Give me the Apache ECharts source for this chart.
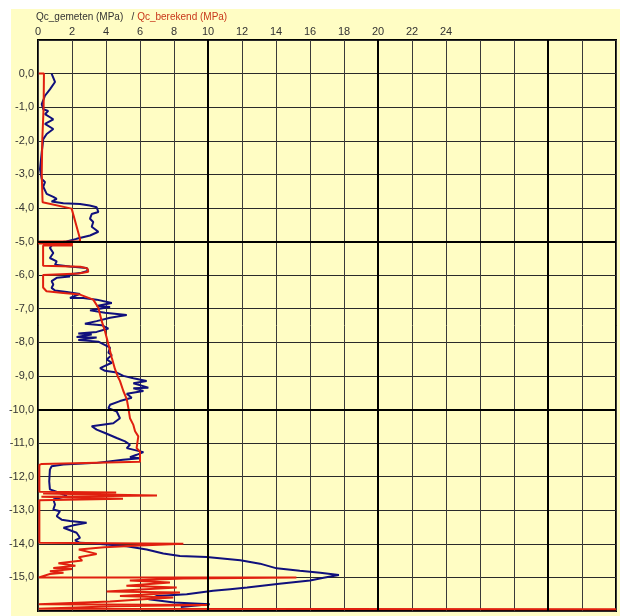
<!DOCTYPE html>
<html>
<head>
<meta charset="utf-8">
<script src="https://cdn.jsdelivr.net/npm/echarts@6/dist/echarts.min.js"></script>
<style>
  html, body { margin: 0; padding: 0; background: #ffffff; }
  #chart { width: 624px; height: 616px; }
</style>
</head>
<body>
<div id="chart"></div>
<script>
// Cone resistance profile: measured (gemeten) vs calculated (berekend), [qc MPa, depth m]
const gemeten = [
  [0.8,0],[1.0,-0.25],[0.7,-0.47],[0.41,-0.66],[0.22,-0.91],[0.31,-1.06],[0.6,-1.11],[0.41,-1.21],
  [0.9,-1.36],[0.41,-1.5],[0.9,-1.65],[0.51,-1.8],[0.31,-1.95],[0.22,-2.34],[0.12,-2.84],[0.22,-3.14],
  [0.41,-3.23],[0.31,-3.37],[0.51,-3.58],[0.9,-3.67],[1.1,-3.73],[0.8,-3.81],[1.49,-3.86],[2.47,-3.88],
  [3.04,-3.93],[3.45,-3.98],[3.55,-4.12],[3.16,-4.18],[3.06,-4.32],[3.25,-4.42],[3.16,-4.56],[3.55,-4.71],
  [3.06,-4.82],[2.27,-4.92],[1.67,-5.0],[0.9,-5.05],[0.7,-5.19],[0.9,-5.34],[0.7,-5.49],[1.1,-5.59],
  [1.0,-5.69],[1.88,-5.74],[2.86,-5.79],[2.96,-5.87],[2.47,-5.94],[1.69,-5.99],[1.88,-6.04],[1.1,-6.08],
  [0.8,-6.18],[0.9,-6.28],[0.8,-6.38],[1.0,-6.46],[1.69,-6.5],[2.47,-6.56],[1.88,-6.68],[2.66,-6.68],
  [3.45,-6.73],[4.34,-6.83],[3.45,-6.92],[4.24,-6.95],[3.06,-7.05],[2.96,-7.1],[3.94,-7.12],[5.22,-7.19],
  [4.24,-7.27],[3.45,-7.37],[2.76,-7.45],[3.75,-7.49],[4.14,-7.59],[3.45,-7.69],[2.37,-7.74],[3.16,-7.77],
  [2.27,-7.84],[3.45,-7.86],[2.37,-7.93],[3.55,-7.98],[4.24,-8.16],[4.14,-8.31],[4.34,-8.38],[4.04,-8.51],
  [4.34,-8.61],[3.65,-8.77],[3.94,-8.85],[4.63,-8.9],[5.02,-9.0],[5.61,-9.07],[6.39,-9.15],[5.61,-9.22],
  [6.49,-9.35],[5.61,-9.37],[6.2,-9.45],[5.22,-9.53],[5.51,-9.65],[4.82,-9.75],[4.24,-9.86],[4.14,-9.96],
  [4.63,-10.06],[4.82,-10.26],[4.43,-10.41],[3.16,-10.5],[3.06,-10.55],[3.45,-10.6],[3.94,-10.7],[4.63,-10.85],
  [5.12,-10.95],[5.41,-11.05],[5.22,-11.15],[6.2,-11.27],[5.8,-11.35],[5.41,-11.42],[6.0,-11.45],[5.0,-11.5],
  [3.45,-11.59],[1.49,-11.64],[0.8,-11.69],[0.7,-11.79],[0.66,-12.14],[0.7,-12.38],[1.0,-12.43],[1.49,-12.53],
  [1.69,-12.58],[1.29,-12.63],[0.9,-12.68],[1.0,-12.83],[0.9,-12.98],[1.29,-13.03],[1.1,-13.18],[1.39,-13.28],
  [1.88,-13.32],[2.86,-13.37],[2.08,-13.45],[1.5,-13.52],[2.27,-13.67],[2.47,-13.82],[2.18,-13.9],[2.47,-13.97],
  [3.16,-13.98],[5.22,-14.07],[6.39,-14.17],[7.37,-14.29],[8.35,-14.36],[9.92,-14.39],[11.9,-14.49],[13.06,-14.59],
  [14.04,-14.73],[15.4,-14.8],[16.6,-14.86],[17.7,-14.93],[16.8,-15.01],[16.0,-15.09],[14.2,-15.19],[12.3,-15.3],
  [11.3,-15.35],[10.3,-15.4],[8.75,-15.5],[7.0,-15.55],[6.5,-15.65],[8.0,-15.75],[10.1,-15.8],[9.0,-15.85],[8.4,-15.88]
];

const berekend = [
  [0.05,0],[0.35,0],[0.33,-1.0],[0.25,-2.0],[0.22,-3.0],[0.27,-3.83],[1.98,-4.02],[2.47,-4.92],
  [2.47,-4.99],[0.05,-5.0],[0.05,-5.06],[2.0,-5.06],[2.0,-5.12],[0.3,-5.12],[0.3,-5.72],[2.5,-5.75],
  [2.9,-5.8],[2.96,-5.9],[2.4,-5.95],[0.3,-6.0],[0.3,-6.37],[0.5,-6.48],[1.49,-6.53],[2.47,-6.58],
  [3.25,-6.73],[3.55,-6.97],[3.75,-7.37],[3.94,-7.67],[4.14,-8.06],[4.34,-8.46],[4.53,-8.8],[4.72,-9.05],
  [4.82,-9.15],[5.02,-9.45],[5.22,-9.69],[5.31,-9.94],[5.41,-10.26],[5.61,-10.46],[5.71,-10.65],[5.9,-10.8],
  [5.8,-11.15],[6.0,-11.25],[6.0,-11.56],[0.22,-11.62],[0.08,-11.65],[0.08,-12.45],[4.6,-12.47],[0.3,-12.5],
  [7.0,-12.56],[0.2,-12.6],[5.0,-12.66],[0.08,-12.7],[0.08,-13.97],[8.55,-14.0],[6.0,-14.05],[3.9,-14.1],
  [2.4,-14.17],[3.45,-14.3],[2.4,-14.4],[2.6,-14.5],[1.2,-14.58],[2.2,-14.65],[0.9,-14.72],[2.0,-14.75],
  [0.7,-14.82],[1.5,-14.86],[0.7,-14.9],[0.05,-15.0],[15.2,-15.0],[8.55,-15.03],[5.4,-15.09],[7.76,-15.15],
  [5.2,-15.25],[8.16,-15.3],[4.04,-15.42],[8.35,-15.45],[4.82,-15.55],[7.96,-15.6],[6.2,-15.65],[4.24,-15.72],
  [0.05,-15.8],[10.0,-15.82],[4.5,-15.86],[0.05,-15.93],[34,-15.95]
];

// Axis extents and the heavier reference lines
const qcTicksShown = [0, 2, 4, 6, 8, 10, 12, 14, 16, 18, 20, 22, 24];
const majorQc = [10, 20, 30];
const majorDepth = [-5, -10];

const BG = '#FFFDC4';
const chart = echarts.init(document.getElementById('chart'), null, { renderer: 'canvas' });

chart.setOption({
  animation: false,
  backgroundColor: '#ffffff',
  graphic: [{
    type: 'rect', z: -10, silent: true,
    shape: { x: 11, y: 9, width: 609, height: 607 },
    style: { fill: BG }
  }],
  title: {
    left: 36, top: 12, padding: 0,
    text: '{a|Qc_gemeten (MPa)   / }{b|Qc_berekend (MPa)}',
    textStyle: {
      fontWeight: 'normal', fontSize: 10, fontFamily: 'Liberation Sans',
      rich: {
        a: { fontFamily: 'Liberation Sans', fontSize: 10, fontWeight: 'normal', color: '#333333' },
        b: { fontFamily: 'Liberation Sans', fontSize: 10, fontWeight: 'normal', color: '#c8361a' }
      }
    }
  },
  grid: {
    left: 38, right: 8, top: 40, bottom: 5,
    show: true, backgroundColor: BG, borderColor: '#000000', borderWidth: 2
  },
  xAxis: {
    type: 'value', position: 'top', min: 0, max: 34, interval: 2,
    axisLine: { show: false }, axisTick: { show: false },
    axisLabel: {
      margin: 3, fontFamily: 'Liberation Sans', fontSize: 11, color: '#333333',
      formatter: v => qcTicksShown.includes(v) ? String(v) : ''
    },
    splitLine: { show: true, lineStyle: { color: '#3a3a3a', width: 1 } }
  },
  yAxis: {
    type: 'value', min: -16, max: 1, interval: 1,
    axisLine: { show: false }, axisTick: { show: false },
    axisLabel: {
      margin: 4, fontFamily: 'Liberation Sans', fontSize: 11, color: '#333333',
      formatter: v => (v > 0 || v < -15) ? '' : (v === 0 ? '0,0' : v.toFixed(1).replace('.', ','))
    },
    splitLine: { show: true, lineStyle: { color: '#2a2a2a', width: 1 } }
  },
  series: [
    {
      name: 'grid', type: 'line', data: [], silent: true, z: 1,
      markLine: {
        silent: true, symbol: 'none', label: { show: false },
        lineStyle: { color: '#000000', width: 2, type: 'solid' },
        data: majorQc.map(v => ({ xAxis: v })).concat(majorDepth.map(d => ({ yAxis: d })))
      }
    },
    {
      name: 'Qc_gemeten', type: 'line', data: gemeten, showSymbol: false, symbol: 'none',
      z: 3, lineStyle: { color: '#10107c', width: 2 }
    },
    {
      name: 'Qc_berekend', type: 'line', data: berekend, showSymbol: false, symbol: 'none',
      z: 4, lineStyle: { color: '#e0200f', width: 2 }
    }
  ]
});
</script>
</body>
</html>
